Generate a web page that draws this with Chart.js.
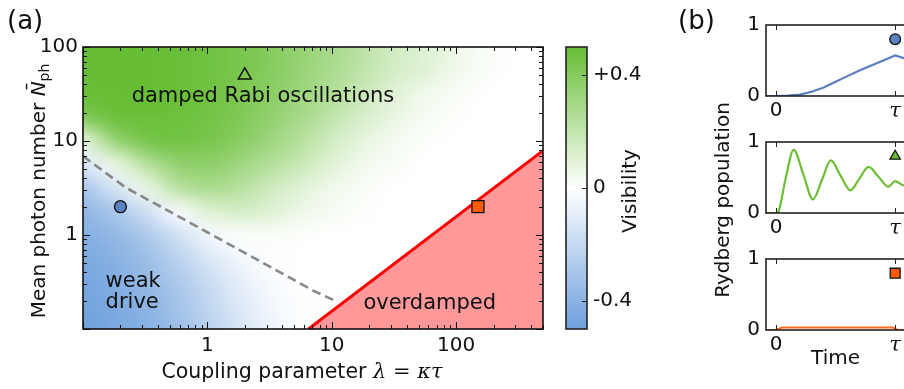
<!DOCTYPE html>
<html><head><meta charset="utf-8">
<script src="https://cdn.jsdelivr.net/npm/chart.js@4.4.1/dist/chart.umd.min.js"></script>
<style>
html,body{margin:0;padding:0;background:#fff;overflow:hidden;width:904px;height:389px;position:relative;}
canvas{position:absolute;top:0;}
#main{left:0;}
#cbar{left:540px;}
#p1,#p2,#p3{left:660px;}
</style></head><body>
<canvas id="main" width="560" height="389"></canvas>
<canvas id="cbar" width="120" height="389"></canvas>
<canvas id="p1" width="270" height="389"></canvas>
<canvas id="p2" width="270" height="389"></canvas>
<canvas id="p3" width="270" height="389"></canvas>
<script>
// ---------------- data ----------------
const heatLogLambda = [-1,-0.75,-0.5,-0.25,0,0.25,0.5,0.75,1,1.25,1.5,1.75,2,2.25,2.5,2.75];
const heatLogN = [2,1.75,1.5,1.25,1,0.75,0.5,0.25,0,-0.25,-0.5,-0.75,-1];
const visibility = [
  [ .50, .50, .50, .49, .47, .44, .40, .35, .29, .22, .15, .11, .06, .02, 0, 0],
  [ .50, .50, .50, .49, .47, .44, .40, .34, .28, .21, .14, .10, .05, .015, 0, 0],
  [ .49, .50, .50, .49, .47, .43, .38, .32, .25, .17, .10, .05, .02, 0, 0, 0],
  [ .41, .48, .49, .48, .46, .42, .36, .29, .21, .13, .07, .03, .01, 0, 0, 0],
  [ .08, .33, .44, .46, .44, .39, .32, .24, .15, .08, .04, .01, 0, 0, 0, 0],
  [-.12, .06, .23, .35, .37, .32, .25, .18, .10, .05, .02, 0, 0, 0, 0, 0],
  [-.30,-.14, .06, .22, .28, .24, .16, .10, .05, .02, 0, 0, 0, 0, 0, 0],
  [-.38,-.30,-.17,-.02, .10, .14, .11, .06, .03, .01, 0, 0, 0, 0, 0, 0],
  [-.42,-.37,-.29,-.17,-.05, .01, .02, .01, 0, 0, 0, 0, 0, 0, 0, 0],
  [-.45,-.41,-.34,-.24,-.13,-.05,-.01, 0, 0, 0, 0, 0, 0, 0, 0, 0],
  [-.47,-.43,-.37,-.29,-.19,-.09,-.03, 0, 0, 0, 0, 0, 0, 0, 0, 0],
  [-.48,-.45,-.40,-.32,-.22,-.12,-.05,-.01, 0, 0, 0, 0, 0, 0, 0, 0],
  [-.49,-.46,-.41,-.34,-.24,-.14,-.06,-.01, 0, 0, 0, 0, 0, 0, 0, 0]
];
const cmapStops = [-0.5, 0, 0.5];
const cmapColors = [[110,160,220],[255,255,255],[103,190,53]];

const lambdaTicks = [1, 10, 100];
const nphTicks = [1, 10, 100];
const overdampedLambda = [6.5, 500];
const overdampedN = [0.1, 7.9];
const dashLambda = [0.1, 0.22, 1, 7.1, 11];
const dashN = [6.9, 3.2, 1.07, 0.256, 0.196];
const markerLambda = [0.2, 2, 150];
const markerN = [2, 50, 2];

const cbTicks = [-0.4, 0, 0.4];
const cbTickLabels = ['-0.4', '0', '+0.4'];

const timeTicks = [0, 1];
const timeTickLabels = ['0', 'τ'];
const popTicks = [0, 1];
const popTickLabels = ['0', '1'];
const tBlue = [-0.09, 0, 0.1, 0.2, 0.3, 0.4, 0.5, 0.6, 0.7, 0.8, 0.9, 1.0, 1.1, 1.2];
const pBlue = [0, 0, 0.005, 0.02, 0.06, 0.12, 0.2, 0.28, 0.36, 0.43, 0.5, 0.57, 0.52, 0.48];
const tGreen = [-0.09, 0, 0.02, 0.08, 0.148, 0.23, 0.31, 0.385, 0.46, 0.54, 0.623, 0.70, 0.777, 0.86, 0.944, 1.0, 1.07, 1.2];
const pGreen = [0, 0, 0.02, 0.48, 0.89, 0.54, 0.19, 0.465, 0.74, 0.53, 0.32, 0.485, 0.65, 0.51, 0.37, 0.45, 0.39, 0.42];
const tOrange = [-0.09, 0, 0.05, 0.98, 1.02, 1.2];
const pOrange = [0, 0, 0.035, 0.035, 0, 0];
const panelMarkerT = [1, 1, 1];
const panelMarkerP = [0.8, 0.8, 0.8];

// ---------------- helpers ----------------
const INK = '#111';
const SANS = '"DejaVu Sans"';
const SERIF = '"DejaVu Serif"';
const PX = 660; // left offset of the panel canvases
const zip = (xs, ys) => xs.map((x, i) => ({x, y: ys[i]}));

function cmap(v) {
  for (let i = 0; i < cmapStops.length - 1; i++) {
    if (v <= cmapStops[i + 1] || i === cmapStops.length - 2) {
      let f = (v - cmapStops[i]) / (cmapStops[i + 1] - cmapStops[i]);
      f = Math.max(0, Math.min(1, f));
      const a = cmapColors[i], b = cmapColors[i + 1];
      return [0, 1, 2].map(k => Math.round(a[k] + (b[k] - a[k]) * f));
    }
  }
}

function drawRuns(ctx, runs, cx, cy, rot) {
  ctx.save();
  ctx.translate(cx, cy);
  ctx.rotate(rot || 0);
  ctx.fillStyle = INK;
  ctx.textBaseline = 'alphabetic';
  ctx.textAlign = 'left';
  let total = 0;
  runs.forEach(r => { ctx.font = r.font; r.w = ctx.measureText(r.text).width; total += r.w; });
  let x = -total / 2;
  runs.forEach(r => { ctx.font = r.font; ctx.fillText(r.text, x, r.dy || 0); x += r.w; });
  ctx.restore();
}

function logTickValues(min, max) {
  const out = [];
  for (let k = Math.floor(Math.log10(min)); k <= Math.ceil(Math.log10(max)); k++) {
    for (let m = 1; m <= 9; m++) {
      const v = m * Math.pow(10, k);
      if (v >= min * 0.999 && v <= max * 1.001) out.push({v, major: m === 1});
    }
  }
  return out;
}

// ---------------- main heat map ----------------
const heatPlugin = {
  id: 'heat',
  beforeDatasetsDraw(chart) {
    const {ctx, chartArea: a, scales: {x, y}} = chart;
    const nx = heatLogLambda.length, ny = heatLogN.length;
    const off = document.createElement('canvas');
    off.width = nx; off.height = ny;
    const octx = off.getContext('2d');
    const img = octx.createImageData(nx, ny);
    for (let j = 0; j < ny; j++) for (let i = 0; i < nx; i++) {
      const c = cmap(visibility[j][i]);
      const p = (j * nx + i) * 4;
      img.data[p] = c[0]; img.data[p + 1] = c[1]; img.data[p + 2] = c[2]; img.data[p + 3] = 255;
    }
    octx.putImageData(img, 0, 0);
    const x0 = x.getPixelForValue(Math.pow(10, heatLogLambda[0]));
    const x1 = x.getPixelForValue(Math.pow(10, heatLogLambda[nx - 1]));
    const y0 = y.getPixelForValue(Math.pow(10, heatLogN[0]));
    const y1 = y.getPixelForValue(Math.pow(10, heatLogN[ny - 1]));
    const dx = (x1 - x0) / (nx - 1), dy = (y1 - y0) / (ny - 1);
    ctx.save();
    ctx.beginPath(); ctx.rect(a.left, a.top, a.right - a.left, a.bottom - a.top); ctx.clip();
    ctx.imageSmoothingEnabled = true;
    ctx.imageSmoothingQuality = 'high';
    ctx.drawImage(off, x0 - dx / 2, y0 - dy / 2, dx * nx, dy * ny);
    ctx.restore();
  },
  afterDatasetsDraw(chart) {
    const {ctx, scales: {x, y}} = chart;
    ctx.save();
    ctx.fillStyle = INK;
    ctx.font = '21px ' + SANS;
    ctx.textBaseline = 'alphabetic';
    ctx.textAlign = 'center';
    ctx.fillText('damped Rabi oscillations', x.getPixelForValue(2.8), y.getPixelForValue(25.8));
    ctx.fillText('overdamped', x.getPixelForValue(61.4), y.getPixelForValue(0.165));
    ctx.textAlign = 'left';
    ctx.fillText('weak', x.getPixelForValue(0.152), y.getPixelForValue(0.278));
    ctx.fillText('drive', x.getPixelForValue(0.152), y.getPixelForValue(0.168));
    ctx.restore();
  },
  afterDraw(chart) {
    const {ctx, chartArea: a, scales: {x, y}} = chart;
    ctx.save();
    ctx.strokeStyle = INK;
    ctx.lineWidth = 1;
    ctx.beginPath();
    logTickValues(x.min, x.max).forEach(t => {
      const p = Math.round(x.getPixelForValue(t.v)) + 0.5, L = t.major ? 7 : 4;
      ctx.moveTo(p, a.bottom); ctx.lineTo(p, a.bottom - L);
      ctx.moveTo(p, a.top); ctx.lineTo(p, a.top + L);
    });
    logTickValues(y.min, y.max).forEach(t => {
      const p = Math.round(y.getPixelForValue(t.v)) + 0.5, L = t.major ? 7 : 4;
      ctx.moveTo(a.left, p); ctx.lineTo(a.left + L, p);
      ctx.moveTo(a.right, p); ctx.lineTo(a.right - L, p);
    });
    ctx.stroke();
    ctx.lineWidth = 1.6;
    ctx.strokeRect(a.left, a.top, a.right - a.left, a.bottom - a.top);
    ctx.restore();
    // titles
    drawRuns(ctx, [
      {text: 'Mean photon number ', font: '20px ' + SANS},
      {text: 'N\u0304', font: 'italic 20px ' + SANS},
      {text: 'ph', font: '14px ' + SANS, dy: 4}
    ], 45, 191, -Math.PI / 2);
    drawRuns(ctx, [
      {text: 'Coupling parameter ', font: '20.5px ' + SANS},
      {text: 'λ', font: 'italic 21px ' + SERIF},
      {text: ' = ', font: '21px ' + SERIF},
      {text: 'κτ', font: 'italic 21px ' + SERIF}
    ], 302, 378, 0);
    ctx.save();
    ctx.fillStyle = INK; ctx.font = '26px ' + SANS; ctx.textBaseline = 'alphabetic'; ctx.textAlign = 'left';
    ctx.fillText('(a)', 7, 29);
    ctx.restore();
  }
};

const tickFont = {family: 'DejaVu Sans', size: 20};

new Chart(document.getElementById('main'), {
  type: 'scatter',
  data: {datasets: [
    {data: zip([markerLambda[0]], [markerN[0]]), pointStyle: 'circle', pointRadius: 6, backgroundColor: '#5b7fbf', borderColor: INK, borderWidth: 1.3, order: 0},
    {data: zip([markerLambda[1]], [markerN[1]]), pointStyle: 'triangle', pointRadius: 7.5, backgroundColor: 'rgba(0,0,0,0)', borderColor: INK, borderWidth: 1.5, order: 0},
    {data: zip([markerLambda[2]], [markerN[2]]), pointStyle: 'rect', pointRadius: 8.5, backgroundColor: '#ff5a0a', borderColor: INK, borderWidth: 1.3, order: 0},
    {type: 'line', data: zip(dashLambda, dashN), borderColor: '#888888', borderWidth: 2.6, borderDash: [9, 5], pointRadius: 0, fill: false, tension: 0, order: 1},
    {type: 'line', data: zip(overdampedLambda, overdampedN), borderColor: '#ff0000', borderWidth: 3, backgroundColor: '#ff9999', fill: 'start', pointRadius: 0, tension: 0, order: 2}
  ]},
  options: {
    responsive: false, animation: false, devicePixelRatio: 1,
    layout: {padding: {top: 47, right: 17, left: 0, bottom: 0}},
    plugins: {legend: {display: false}, tooltip: {enabled: false}},
    scales: {
      x: {type: 'logarithmic', min: 0.1, max: 500,
        grid: {display: false, drawTicks: false}, border: {display: false},
        afterBuildTicks: s => { s.ticks = lambdaTicks.map(v => ({value: v})); },
        afterFit: s => { s.height = 60; },
        ticks: {font: tickFont, color: INK, padding: 5, maxRotation: 0, autoSkip: false, callback: v => String(v)}},
      y: {type: 'logarithmic', min: 0.1, max: 100,
        grid: {display: false, drawTicks: false}, border: {display: false},
        afterBuildTicks: s => { s.ticks = nphTicks.map(v => ({value: v})); },
        afterFit: s => { s.width = 83; },
        ticks: {font: tickFont, color: INK, padding: 5, autoSkip: false, callback: v => String(v)}}
    }
  },
  plugins: [heatPlugin]
});

// ---------------- colorbar ----------------
const cbarPlugin = {
  id: 'cbar',
  beforeDatasetsDraw(chart) {
    const {ctx, chartArea: a, scales: {y}} = chart;
    ctx.save();
    for (let p = Math.floor(a.top); p < a.bottom; p++) {
      const c = cmap(y.getValueForPixel(p + 0.5));
      ctx.fillStyle = `rgb(${c[0]},${c[1]},${c[2]})`;
      ctx.fillRect(a.left, p, a.right - a.left, 1);
    }
    ctx.restore();
  },
  afterDraw(chart) {
    const {ctx, chartArea: a, scales: {y}} = chart;
    ctx.save();
    ctx.strokeStyle = '#222';
    ctx.lineWidth = 1;
    ctx.beginPath();
    cbTicks.forEach(v => {
      const p = Math.round(y.getPixelForValue(v)) + 0.5;
      ctx.moveTo(a.right, p); ctx.lineTo(a.right - 5, p);
    });
    ctx.stroke();
    ctx.lineWidth = 1.6;
    ctx.strokeRect(a.left, a.top, a.right - a.left, a.bottom - a.top);
    ctx.restore();
    drawRuns(ctx, [{text: 'Visibility', font: '20px ' + SANS}], 96, 191, -Math.PI / 2);
  }
};

new Chart(document.getElementById('cbar'), {
  type: 'scatter',
  data: {datasets: []},
  options: {
    responsive: false, animation: false, devicePixelRatio: 1,
    layout: {padding: {top: 47, left: 26, bottom: 60, right: 0}},
    plugins: {legend: {display: false}, tooltip: {enabled: false}},
    scales: {
      x: {display: false, min: 0, max: 1},
      y: {position: 'right', min: -0.5, max: 0.5,
        grid: {display: false, drawTicks: false}, border: {display: false},
        afterBuildTicks: s => { s.ticks = cbTicks.map(v => ({value: v})); },
        afterFit: s => { s.width = 73; },
        ticks: {font: tickFont, color: INK, padding: 6, autoSkip: false,
          callback: (v, i) => cbTickLabels[i]}}
    }
  },
  plugins: [cbarPlugin]
});

// ---------------- panels (b) ----------------
function makePanel(id, top, bottom, t, p, lineColor, mStyle, mRadius, mColor, mono, extra) {
  const plugin = {
    id: 'frame_' + id,
    afterDraw(chart) {
      const {ctx, chartArea: a, scales: {x}} = chart;
      ctx.save();
      ctx.strokeStyle = '#222';
      ctx.lineWidth = 1;
      ctx.beginPath();
      timeTicks.forEach(v => {
        const q = Math.round(x.getPixelForValue(v)) + 0.5;
        ctx.moveTo(q, a.bottom); ctx.lineTo(q, a.bottom - 5);
        ctx.moveTo(q, a.top); ctx.lineTo(q, a.top + 5);
      });
      ctx.stroke();
      ctx.lineWidth = 1.6;
      ctx.strokeRect(a.left, a.top, a.right - a.left, a.bottom - a.top);
      ctx.restore();
      if (extra) extra(ctx);
    }
  };
  return new Chart(document.getElementById(id), {
    type: 'scatter',
    data: {datasets: [
      {data: zip([panelMarkerT[0]], [panelMarkerP[0]]), pointStyle: mStyle, pointRadius: mRadius, backgroundColor: mColor, borderColor: INK, borderWidth: 1.3, order: 0},
      {type: 'line', data: zip(t, p), borderColor: lineColor, borderWidth: 2.2, pointRadius: 0, fill: false,
        tension: 0, cubicInterpolationMode: mono ? 'monotone' : 'default', order: 1}
    ]},
    options: {
      responsive: false, animation: false, devicePixelRatio: 1,
      layout: {padding: {top: top, right: 11, left: 0, bottom: 0}},
      plugins: {legend: {display: false}, tooltip: {enabled: false}},
      scales: {
        x: {type: 'linear', min: -0.084, max: 1.2,
          grid: {display: false, drawTicks: false}, border: {display: false},
          afterBuildTicks: s => { s.ticks = timeTicks.map(v => ({value: v})); },
          afterFit: s => { s.height = 389 - bottom; },
          ticks: {color: INK, padding: 3, maxRotation: 0, autoSkip: false,
            font: c => (c.index === 1 ? {family: 'DejaVu Serif', style: 'italic', size: 21} : tickFont),
            callback: (v, i) => timeTickLabels[i]}},
        y: {min: 0, max: 1,
          grid: {display: false, drawTicks: false}, border: {display: false},
          afterBuildTicks: s => { s.ticks = popTicks.map(v => ({value: v})); },
          afterFit: s => { s.width = 106; },
          ticks: {font: tickFont, color: INK, padding: 6, autoSkip: false,
            callback: (v, i) => popTickLabels[i]}}
      }
    },
    plugins: [plugin]
  });
}

makePanel('p1', 25, 96, tBlue, pBlue, '#5a7dbd', 'circle', 5.4, '#5b7fbf', false, ctx => {
  ctx.save();
  ctx.fillStyle = INK; ctx.font = '26px ' + SANS; ctx.textBaseline = 'alphabetic'; ctx.textAlign = 'left';
  ctx.fillText('(b)', 678 - PX, 29);
  ctx.restore();
});
makePanel('p2', 142, 213, tGreen, pGreen, '#6cbf35', 'triangle', 6, '#6cbf35', true, ctx => {
  drawRuns(ctx, [{text: 'Rydberg population', font: '20px ' + SANS}], 729 - PX, 200, -Math.PI / 2);
});
makePanel('p3', 259, 330, tOrange, pOrange, '#ff6a1a', 'rect', 7, '#ff5a0a', false, ctx => {
  drawRuns(ctx, [{text: 'Time', font: '20px ' + SANS}], 835.5 - PX, 364, 0);
});
</script>
</body></html>
